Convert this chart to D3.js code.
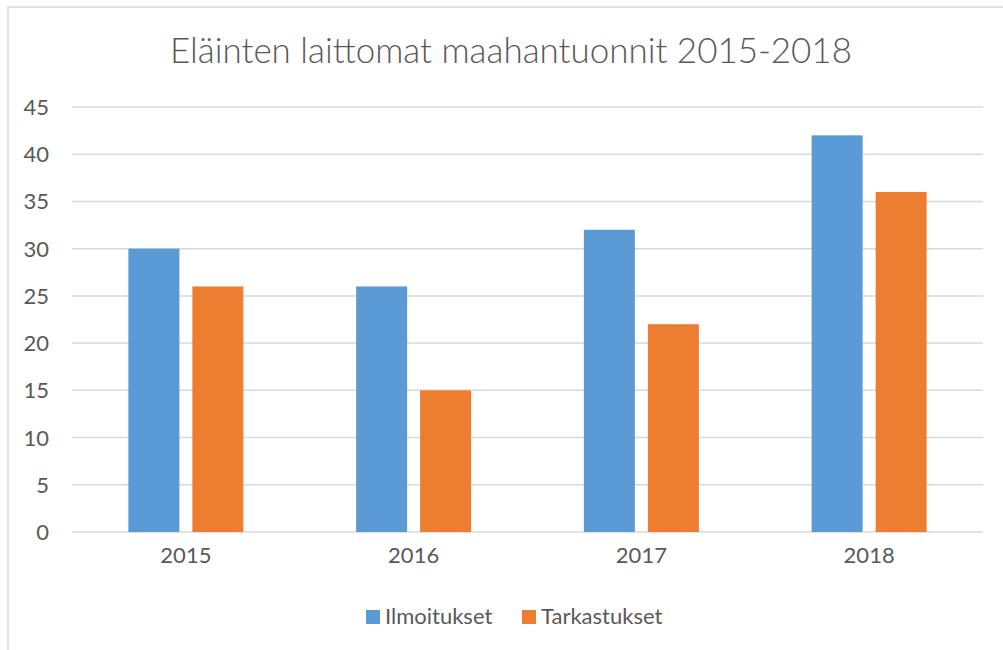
<!DOCTYPE html>
<html><head><meta charset="utf-8">
<script src="https://cdn.jsdelivr.net/npm/d3@7"></script>
<style>body{margin:0;background:#fff}svg{display:block}text{font-family:Lato,"Open Sans",sans-serif;fill:#595959}</style>
</head><body>
<script>
const categories = ["2015","2016","2017","2018"];
const seriesNames = ["Ilmoitukset","Tarkastukset"];
const ilmoitukset = [30,26,32,42];
const tarkastukset = [26,15,22,36];
const yTicks = [0,5,10,15,20,25,30,35,40,45];
const titleText = "Eläinten laittomat maahantuonnit 2015-2018";
const colors = ["#5b9bd5","#ed7d31"];

const W=1003,H=650;
const svg=d3.select("body").append("svg").attr("width",W).attr("height",H);
svg.append("rect").attr("x",8).attr("y",7).attr("width",1010).attr("height",700)
  .attr("fill","#fff").attr("stroke","#d9d9d9").attr("stroke-width",1.5);

const m={l:72,r:983,t:107,b:532};
const x=d3.scaleBand().domain(categories).range([m.l,m.r]);
const y=d3.scaleLinear().domain([0,45]).range([m.b,m.t]);
const xs=d3.scaleBand().domain(seriesNames).range([0,115]).paddingInner(13/64);

const grid=svg.append("g");
grid.selectAll("line").data(yTicks).join("line")
  .attr("x1",m.l).attr("x2",m.r).attr("y1",d=>y(d)).attr("y2",d=>y(d))
  .attr("stroke","#d9d9d9").attr("stroke-width",1.5);

const yAxis=svg.append("g").attr("transform",`translate(${m.l},0)`)
  .call(d3.axisLeft(y).tickValues(yTicks).tickSize(0).tickPadding(23));
yAxis.select(".domain").remove();
yAxis.selectAll("text").style("font-size","22px").attr("fill","#595959").attr("dy","0.34em");

const xAxis=svg.append("g").attr("transform",`translate(0,${m.b})`)
  .call(d3.axisBottom(x).tickSize(0).tickPadding(15));
xAxis.select(".domain").remove();
xAxis.selectAll("text").style("font-size","22px").attr("fill","#595959");

const data=categories.map((c,i)=>({c,vals:[ilmoitukset[i],tarkastukset[i]]}));
const groups=svg.append("g").selectAll("g").data(data).join("g")
  .attr("transform",d=>`translate(${x(d.c)+x.bandwidth()/2-57.5},0)`);
groups.selectAll("rect").data(d=>d.vals.map((v,j)=>({v,s:seriesNames[j],j}))).join("rect")
  .attr("x",d=>xs(d.s)).attr("width",xs.bandwidth())
  .attr("y",d=>y(d.v)).attr("height",d=>y(0)-y(d.v)).attr("fill",d=>colors[d.j]);

const t=svg.append("text").attr("x",511).attr("y",63).attr("text-anchor","middle")
  .style("font-size","32px").style("font-weight","300").text(titleText);
const tw=t.node().getComputedTextLength();
t.style("font-size",(32*682/tw)+"px");

const leg=svg.append("g");
const legX=[366,522];
seriesNames.forEach((s,i)=>{
  leg.append("rect").attr("x",legX[i]).attr("y",610).attr("width",14).attr("height",14).attr("fill",colors[i]);
  leg.append("text").attr("x",legX[i]+19).attr("y",624).style("font-size","22px").text(s);
});
</script>
</body></html>
